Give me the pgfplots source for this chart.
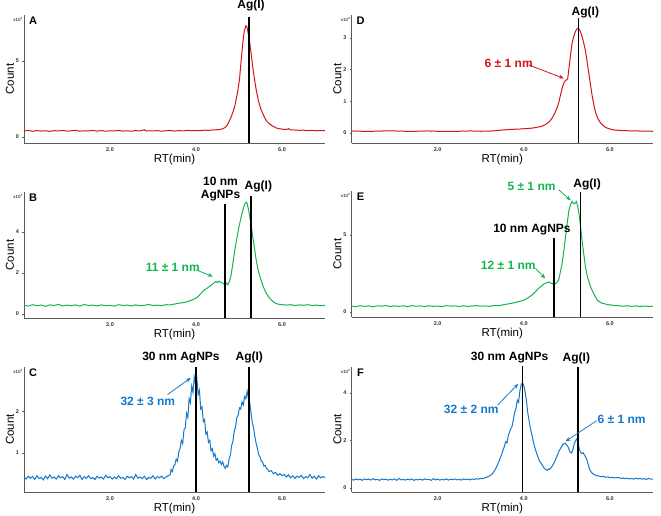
\documentclass[border=0pt]{standalone}
\usepackage{fontspec}
\setmainfont{Liberation Sans}
\usepackage{pgfplots}
\pgfplotsset{compat=1.18}
\usetikzlibrary{arrows.meta}
\definecolor{cred}{RGB}{210,20,20}
\definecolor{cgreen}{RGB}{20,180,80}
\definecolor{cblue}{RGB}{20,120,205}
\definecolor{axgray}{RGB}{90,90,90}
\pgfplotsset{panel/.style={
  scale only axis, anchor=south west, clip=false,
  xmin=0, xmax=7, axis lines*=left,
  axis line style={axgray, line width=0.9pt},
  xtick={2,4,6}, xticklabels={2.0,4.0,6.0},
  tick label style={font=\fontsize{5.5}{6}\selectfont\bfseries, text=black!80},
  tick style={axgray, line width=0.5pt}, major tick length=1.5pt, tick align=outside,
  /pgf/number format/assume math mode=true,
  xlabel={RT(min)}, ylabel={Count},
  label style={font=\fontsize{11.5}{12}\selectfont},
  xlabel style={at={(axis description cs:0.5,0)}, anchor=center, yshift=-17pt},
}}
\tikzset{
vl/.style={black, line width=1.5pt},
lab/.style={font=\bfseries\fontsize{12}{12.5}\selectfont, inner sep=0pt, align=center},
ann/.style={font=\bfseries\fontsize{12}{12}\selectfont, inner sep=0pt},
arr/.style={line width=0.8pt, -{Stealth[length=5pt,width=4pt]}},
plt/.style={line width=1pt},
letter/.style={font=\bfseries\fontsize{11}{11}\selectfont, xshift=9pt, yshift=-6pt},
mult/.style={font=\fontsize{4.5}{4.5}\selectfont, anchor=east, yshift=-4pt, xshift=-1pt, inner sep=0pt},
}
\begin{document}
\begin{tikzpicture}
\useasboundingbox (0,0) rectangle (661pt,516pt);
% ---------------- A ----------------
\begin{axis}[panel, at={(24pt,373pt)}, width=301pt, height=128pt,
  ymin=-0.39, ymax=8.0, ytick={0,5},
  ylabel style={at={(axis description cs:-0.0465,0.5)}, anchor=center}]
\addplot[cred, plt] coordinates {
(0.0,0.40) (0.1,0.43) (0.2,0.38) (0.3,0.42) (0.4,0.39) (0.5,0.41) (0.6,0.37) (0.7,0.42) (0.8,0.40) (0.9,0.43)
(1.0,0.39) (1.1,0.41) (1.2,0.44) (1.3,0.38) (1.4,0.41) (1.5,0.40) (1.6,0.43) (1.7,0.39) (1.8,0.42) (1.9,0.38)
(2.0,0.41) (2.1,0.40) (2.2,0.43) (2.3,0.39) (2.4,0.41) (2.5,0.38) (2.6,0.42) (2.7,0.40) (2.8,0.48) (2.85,0.39)
(2.9,0.41) (3.0,0.40) (3.1,0.42) (3.2,0.38) (3.3,0.41) (3.4,0.43) (3.5,0.39) (3.6,0.42) (3.7,0.40) (3.8,0.44)
(3.9,0.41) (4.0,0.43) (4.1,0.42) (4.2,0.45) (4.3,0.44) (4.4,0.47) (4.5,0.48) (4.6,0.52) (4.65,0.58) (4.7,0.68)
(4.75,0.9) (4.8,1.2) (4.85,1.56) (4.9,2.0) (4.93,2.4) (4.97,3.0) (5.01,3.75) (5.05,5.0) (5.09,6.2) (5.12,6.9)
(5.16,7.3) (5.18,7.25) (5.2,7.0) (5.24,6.4) (5.28,5.5) (5.32,4.6) (5.36,3.8) (5.40,3.1) (5.45,2.4) (5.5,1.9)
(5.55,1.56) (5.6,1.25) (5.65,1.02) (5.7,0.88) (5.78,0.72) (5.85,0.62) (5.9,0.56) (6.0,0.52) (6.1,0.49) (6.15,0.55)
(6.2,0.47) (6.3,0.46) (6.4,0.44) (6.5,0.45) (6.6,0.42) (6.7,0.44) (6.8,0.41) (6.9,0.43) (7.0,0.42)};
\draw[vl] (axis cs:5.23,-0.39) -- (axis cs:5.23,7.9);
\node[lab] at (axis cs:5.28,8.6) {Ag(I)};
\node[letter] at (rel axis cs:0,1) {A};
\node[mult] at (rel axis cs:0,1) {x10\textsuperscript{3}};
\end{axis}
% ---------------- D ----------------
\begin{axis}[panel, at={(351.5pt,373pt)}, width=301.5pt, height=128pt,
  ymin=-0.32, ymax=3.72, ytick={0,1,2,3},
  ylabel style={at={(axis description cs:-0.0465,0.5)}, anchor=center}]
\addplot[cred, plt] coordinates {
(0.0,0.06) (0.25,0.05) (0.5,0.05) (0.75,0.06) (1.0,0.06) (1.25,0.05) (1.5,0.05) (1.75,0.06) (2.0,0.05) (2.25,0.05)
(2.5,0.05) (2.75,0.06) (3.0,0.05) (3.3,0.06) (3.5,0.09) (3.7,0.11) (3.9,0.12) (4.0,0.13) (4.2,0.15) (4.4,0.2)
(4.5,0.26) (4.6,0.36) (4.66,0.47) (4.72,0.62) (4.78,0.82) (4.81,0.94) (4.85,1.18) (4.89,1.41) (4.93,1.58) (4.97,1.66)
(5.0,1.67) (5.02,1.72) (5.05,2.05) (5.08,2.4) (5.12,2.82) (5.16,3.05) (5.2,3.2) (5.24,3.29) (5.27,3.3) (5.3,3.24)
(5.34,3.1) (5.38,2.9) (5.43,2.61) (5.47,2.25) (5.51,1.88) (5.55,1.5) (5.59,1.15) (5.63,0.86) (5.67,0.63) (5.72,0.45)
(5.77,0.34) (5.82,0.26) (5.9,0.17) (6.0,0.12) (6.1,0.09) (6.3,0.07) (6.6,0.06) (7.0,0.05)};
\draw[vl] (axis cs:5.27,-0.32) -- (axis cs:5.27,3.62);
\node[lab] at (axis cs:5.43,3.8) {Ag(I)};
\node[ann, text=cred] at (axis cs:3.65,2.2) {6 ± 1 nm};
\draw[arr, cred] (axis cs:4.12,2.14) -- (axis cs:4.93,1.72);
\node[letter] at (rel axis cs:0,1) {D};
\node[mult] at (rel axis cs:0,1) {x10\textsuperscript{4}};
\end{axis}
% ---------------- B ----------------
\begin{axis}[panel, at={(24pt,198pt)}, width=301pt, height=126pt,
  ymin=-0.2, ymax=5.95, ytick={0,2,4},
  ylabel style={at={(axis description cs:-0.0465,0.5)}, anchor=center}]
\addplot[cgreen, plt] coordinates {
(0,0.42) (0.1,0.38) (0.2,0.45) (0.3,0.40) (0.4,0.43) (0.5,0.37) (0.6,0.44) (0.7,0.41) (0.8,0.46) (0.9,0.39)
(1.0,0.43) (1.1,0.40) (1.2,0.44) (1.3,0.38) (1.4,0.46) (1.5,0.41) (1.6,0.43) (1.7,0.39) (1.8,0.44) (1.9,0.40)
(2.0,0.42) (2.1,0.38) (2.2,0.45) (2.3,0.41) (2.4,0.43) (2.5,0.39) (2.6,0.44) (2.7,0.40) (2.8,0.42) (2.9,0.46)
(3.0,0.41) (3.1,0.43) (3.2,0.40) (3.3,0.45) (3.4,0.44) (3.5,0.48) (3.6,0.52) (3.7,0.55) (3.8,0.60) (3.9,0.67)
(4.0,0.77) (4.05,0.85) (4.1,0.96) (4.16,1.1) (4.2,1.18) (4.25,1.24) (4.31,1.34) (4.35,1.40) (4.4,1.47) (4.44,1.55)
(4.47,1.58) (4.5,1.52) (4.53,1.60) (4.57,1.55) (4.62,1.50) (4.66,1.45) (4.7,1.52) (4.74,1.42) (4.78,1.6) (4.81,1.82)
(4.85,2.35) (4.89,2.95) (4.93,3.45) (4.97,3.92) (5.01,4.35) (5.05,4.73) (5.09,5.05) (5.12,5.29) (5.15,5.42) (5.18,5.45)
(5.21,5.2) (5.24,4.89) (5.28,4.35) (5.32,3.76) (5.36,3.2) (5.40,2.63) (5.45,2.1) (5.51,1.66) (5.57,1.3) (5.63,1.02)
(5.7,0.8) (5.78,0.62) (5.85,0.52) (5.9,0.48) (6.0,0.45) (6.1,0.43) (6.2,0.45) (6.3,0.41) (6.4,0.44) (6.5,0.42)
(6.6,0.45) (6.7,0.41) (6.8,0.43) (6.9,0.40) (7.0,0.42)};
\draw[vl] (axis cs:4.68,-0.2) -- (axis cs:4.68,5.37);
\draw[vl] (axis cs:5.28,-0.2) -- (axis cs:5.28,5.77);
\node[lab] at (axis cs:4.57,6.1) {10 nm\\AgNPs};
\node[lab] at (axis cs:5.45,6.24) {Ag(I)};
\node[ann, text=cgreen] at (axis cs:3.46,2.26) {11 ± 1 nm};
\draw[arr, cgreen] (axis cs:4.0,2.15) -- (axis cs:4.39,1.82);
\node[letter] at (rel axis cs:0,1) {B};
\node[mult] at (rel axis cs:0,1) {x10\textsuperscript{3}};
\end{axis}
% ---------------- E ----------------
\begin{axis}[panel, at={(351.5pt,199pt)}, width=301.5pt, height=126pt,
  ymin=-0.33, ymax=7.85, ytick={0,5},
  ylabel style={at={(axis description cs:-0.0465,0.5)}, anchor=center}]
\addplot[cgreen, plt] coordinates {
(0,0.38) (0.1,0.34) (0.2,0.40) (0.3,0.36) (0.4,0.39) (0.5,0.33) (0.6,0.40) (0.7,0.37) (0.8,0.41) (0.9,0.35)
(1.0,0.39) (1.1,0.36) (1.2,0.40) (1.3,0.34) (1.4,0.41) (1.5,0.37) (1.6,0.39) (1.7,0.35) (1.8,0.40) (1.9,0.36)
(2.0,0.38) (2.1,0.34) (2.2,0.41) (2.3,0.37) (2.4,0.39) (2.5,0.35) (2.6,0.40) (2.7,0.36) (2.8,0.38) (2.9,0.41)
(3.0,0.37) (3.1,0.39) (3.2,0.36) (3.3,0.41) (3.4,0.40) (3.5,0.45) (3.6,0.50) (3.77,0.59) (3.9,0.68) (4.0,0.76)
(4.1,0.92) (4.2,1.12) (4.23,1.2) (4.3,1.4) (4.35,1.55) (4.39,1.63) (4.45,1.78) (4.5,1.86) (4.54,1.89) (4.58,1.95)
(4.62,1.88) (4.66,1.84) (4.7,1.80) (4.75,1.85) (4.81,2.07) (4.85,2.6) (4.89,3.15) (4.93,4.0) (4.97,4.89) (5.01,5.8)
(5.05,6.63) (5.09,7.0) (5.12,7.17) (5.15,7.05) (5.18,7.02) (5.22,7.17) (5.25,6.9) (5.28,6.41) (5.32,5.5) (5.36,4.46)
(5.4,3.6) (5.43,2.93) (5.48,2.25) (5.55,1.63) (5.62,1.2) (5.71,0.76) (5.8,0.58) (5.94,0.48) (6.1,0.42) (6.2,0.40)
(6.3,0.37) (6.4,0.40) (6.5,0.36) (6.6,0.39) (6.7,0.35) (6.8,0.38) (6.9,0.36) (7.0,0.37)};
\draw[vl] (axis cs:4.70,-0.33) -- (axis cs:4.70,4.78);
\draw[vl] (axis cs:5.32,-0.33) -- (axis cs:5.32,7.76);
\node[lab] at (axis cs:4.19,5.33) {10 nm AgNPs};
\node[lab] at (axis cs:5.47,8.26) {Ag(I)};
\node[ann, text=cgreen] at (axis cs:3.64,3.04) {12 ± 1 nm};
\draw[arr, cgreen] (axis cs:4.27,2.83) -- (axis cs:4.5,2.17);
\node[ann, text=cgreen] at (axis cs:4.18,8.15) {5 ± 1 nm};
\draw[arr, cgreen] (axis cs:4.81,7.93) -- (axis cs:5.09,7.24);
\node[letter] at (rel axis cs:0,1) {E};
\node[mult] at (rel axis cs:0,1) {x10\textsuperscript{3}};
\end{axis}
% ---------------- C ----------------
\begin{axis}[panel, at={(24pt,24pt)}, width=301pt, height=125pt,
  ymin=0.06, ymax=3.06, ytick={1,2},
  ylabel style={at={(axis description cs:-0.0465,0.5)}, anchor=center}]
\addplot[cblue, plt] coordinates {
(0.00,0.42) (0.05,0.37) (0.10,0.44) (0.15,0.39) (0.20,0.43) (0.25,0.36) (0.30,0.45) (0.35,0.38) (0.40,0.41) (0.45,0.35)
(0.50,0.44) (0.55,0.38) (0.60,0.47) (0.65,0.39) (0.70,0.42) (0.75,0.37) (0.80,0.45) (0.85,0.40) (0.90,0.43) (0.95,0.36)
(1.00,0.48) (1.05,0.39) (1.10,0.42) (1.15,0.37) (1.20,0.44) (1.25,0.40) (1.30,0.46) (1.35,0.36) (1.40,0.43) (1.45,0.39)
(1.50,0.45) (1.55,0.38) (1.60,0.41) (1.65,0.36) (1.70,0.44) (1.75,0.39) (1.80,0.42) (1.85,0.37) (1.90,0.46) (1.95,0.40)
(2.00,0.43) (2.05,0.37) (2.10,0.42) (2.15,0.38) (2.20,0.45) (2.25,0.39) (2.30,0.41) (2.35,0.36) (2.40,0.44) (2.45,0.40)
(2.50,0.43) (2.55,0.37) (2.60,0.48) (2.65,0.39) (2.70,0.42) (2.75,0.38) (2.80,0.44) (2.85,0.36) (2.90,0.41) (2.95,0.39)
(3.00,0.45) (3.05,0.37) (3.10,0.43) (3.15,0.40) (3.20,0.44) (3.25,0.38) (3.30,0.42) (3.35,0.45) (3.40,0.47) (3.42,0.60)
(3.45,0.55) (3.48,0.68) (3.51,0.72) (3.54,0.85) (3.57,0.80) (3.60,1.02) (3.63,1.10) (3.66,1.30) (3.69,1.22) (3.72,1.55)
(3.75,1.60) (3.78,1.95) (3.81,1.85) (3.84,2.30) (3.87,2.20) (3.90,2.60) (3.93,2.45) (3.96,2.82) (3.99,2.65) (4.02,2.78)
(4.05,2.40) (4.08,2.50) (4.11,2.05) (4.14,2.10) (4.17,1.75) (4.20,1.80) (4.23,1.45) (4.26,1.50) (4.29,1.25) (4.32,1.30)
(4.35,1.05) (4.38,1.10) (4.41,0.92) (4.44,0.98) (4.47,0.82) (4.50,0.86) (4.53,0.76) (4.56,0.80) (4.59,0.72) (4.62,0.78)
(4.65,0.68) (4.68,0.63) (4.71,0.70) (4.74,0.66) (4.77,0.85) (4.80,0.95) (4.83,1.18) (4.86,1.28) (4.89,1.52) (4.92,1.62)
(4.95,1.85) (4.98,1.90) (5.01,2.08) (5.04,2.05) (5.07,2.22) (5.10,2.15) (5.13,2.35) (5.16,2.30) (5.19,2.48) (5.22,2.30)
(5.25,2.20) (5.28,1.95) (5.31,1.72) (5.34,1.60) (5.37,1.38) (5.40,1.22) (5.43,1.10) (5.46,0.95) (5.49,0.90) (5.52,0.80)
(5.55,0.78) (5.58,0.68) (5.61,0.70) (5.64,0.62) (5.67,0.60) (5.70,0.55) (5.75,0.57) (5.80,0.50) (5.85,0.53) (5.90,0.46)
(5.95,0.50) (6.00,0.45) (6.05,0.48) (6.10,0.42) (6.15,0.47) (6.20,0.40) (6.25,0.45) (6.30,0.39) (6.35,0.44) (6.40,0.41)
(6.45,0.46) (6.50,0.38) (6.55,0.43) (6.60,0.40) (6.65,0.48) (6.70,0.39) (6.75,0.44) (6.80,0.37) (6.85,0.45) (6.90,0.40)
(6.95,0.43) (7.00,0.41)};
\draw[vl] (axis cs:4.0,0.06) -- (axis cs:4.0,3.06);
\draw[vl] (axis cs:5.23,0.06) -- (axis cs:5.23,3.06);
\node[lab] at (axis cs:3.65,3.28) {30 nm AgNPs};
\node[lab] at (axis cs:5.24,3.28) {Ag(I)};
\node[ann, text=cblue] at (axis cs:2.88,2.24) {32 ± 3 nm};
\draw[arr, cblue] (axis cs:3.34,2.4) -- (axis cs:3.88,2.8);
\node[letter] at (rel axis cs:0,1) {C};
\node[mult] at (rel axis cs:0,1) {x10\textsuperscript{3}};
\end{axis}
% ---------------- F ----------------
\begin{axis}[panel, at={(351.5pt,24pt)}, width=301.5pt, height=125pt,
  ymin=-0.17, ymax=5.09, ytick={0,2,4},
  ylabel style={at={(axis description cs:-0.0465,0.5)}, anchor=center}]
\addplot[cblue, plt] coordinates {
(0.00,0.36) (0.05,0.33) (0.10,0.38) (0.15,0.34) (0.20,0.37) (0.25,0.32) (0.30,0.38) (0.35,0.35) (0.40,0.37) (0.45,0.33)
(0.50,0.39) (0.55,0.34) (0.60,0.36) (0.65,0.32) (0.70,0.38) (0.75,0.35) (0.80,0.37) (0.85,0.33) (0.90,0.36) (0.95,0.34)
(1.00,0.38) (1.05,0.32) (1.10,0.40) (1.15,0.34) (1.20,0.36) (1.25,0.33) (1.30,0.37) (1.35,0.34) (1.40,0.38) (1.45,0.32)
(1.50,0.36) (1.55,0.34) (1.60,0.37) (1.65,0.33) (1.70,0.38) (1.75,0.35) (1.80,0.36) (1.85,0.32) (1.90,0.39) (1.95,0.34)
(2.00,0.37) (2.05,0.33) (2.10,0.36) (2.15,0.34) (2.20,0.38) (2.25,0.33) (2.30,0.37) (2.35,0.35) (2.40,0.38) (2.45,0.34)
(2.50,0.36) (2.55,0.33) (2.60,0.38) (2.65,0.35) (2.70,0.37) (2.75,0.34) (2.80,0.38) (2.85,0.36) (2.90,0.39) (2.95,0.37)
(3.00,0.40) (3.05,0.39) (3.10,0.43) (3.15,0.46) (3.20,0.50) (3.25,0.56) (3.28,0.62) (3.31,0.70) (3.34,0.78) (3.37,0.90)
(3.40,1.02) (3.43,1.15) (3.46,1.30) (3.49,1.42) (3.52,1.60) (3.55,1.75) (3.58,1.95) (3.61,1.90) (3.64,2.20) (3.67,2.35)
(3.70,2.50) (3.73,2.60) (3.76,2.90) (3.79,3.20) (3.82,3.35) (3.85,3.70) (3.88,3.60) (3.91,4.10) (3.94,4.35) (3.97,4.42)
(4.00,4.30) (4.03,4.05) (4.06,3.70) (4.09,3.20) (4.12,2.85) (4.15,2.55) (4.18,2.30) (4.21,2.05) (4.24,1.80) (4.27,1.62)
(4.30,1.45) (4.33,1.30) (4.36,1.15) (4.39,1.08) (4.42,0.98) (4.45,0.90) (4.48,0.82) (4.51,0.78) (4.54,0.74) (4.57,0.80)
(4.60,0.78) (4.63,0.85) (4.66,0.92) (4.69,1.02) (4.72,1.12) (4.75,1.25) (4.78,1.38) (4.81,1.52) (4.84,1.62) (4.87,1.72)
(4.90,1.80) (4.93,1.86) (4.96,1.88) (4.99,1.82) (5.02,1.76) (5.05,1.62) (5.08,1.50) (5.11,1.47) (5.14,1.62) (5.17,1.85)
(5.20,1.98) (5.23,2.06) (5.26,1.95) (5.29,1.62) (5.32,1.50) (5.35,1.45) (5.38,1.48) (5.41,1.38) (5.44,1.30) (5.47,1.15)
(5.50,0.95) (5.53,0.78) (5.56,0.68) (5.60,0.60) (5.65,0.55) (5.70,0.52) (5.75,0.50) (5.80,0.47) (5.85,0.49) (5.90,0.45)
(5.95,0.47) (6.00,0.43) (6.05,0.45) (6.10,0.42) (6.20,0.44) (6.25,0.40) (6.30,0.42) (6.35,0.39) (6.40,0.41) (6.45,0.38)
(6.50,0.40) (6.55,0.37) (6.60,0.41) (6.65,0.38) (6.70,0.40) (6.75,0.37) (6.80,0.39) (6.85,0.36) (6.90,0.40) (6.95,0.37)
(7.00,0.38)};
\draw[vl] (axis cs:3.97,-0.17) -- (axis cs:3.97,5.12);
\draw[vl] (axis cs:5.26,-0.17) -- (axis cs:5.26,5.09);
\node[lab] at (axis cs:3.67,5.47) {30 nm AgNPs};
\node[lab] at (axis cs:5.22,5.47) {Ag(I)};
\node[ann, text=cblue] at (axis cs:2.78,3.3) {32 ± 2 nm};
\draw[arr, cblue] (axis cs:3.4,3.5) -- (axis cs:3.87,4.38);
\node[ann, text=cblue] at (axis cs:6.27,2.88) {6 ± 1 nm};
\draw[arr, cblue] (axis cs:5.69,2.83) -- (axis cs:4.97,1.96);
\node[letter] at (rel axis cs:0,1) {F};
\node[mult] at (rel axis cs:0,1) {x10\textsuperscript{3}};
\end{axis}
\end{tikzpicture}
\end{document}
